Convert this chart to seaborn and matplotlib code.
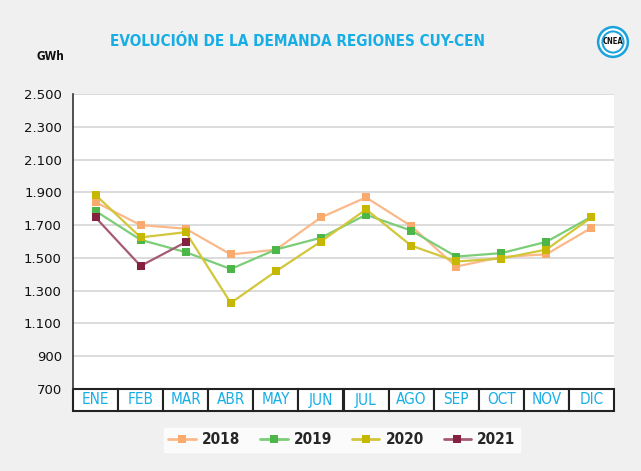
import matplotlib
matplotlib.use("Agg")
import matplotlib.pyplot as plt
import matplotlib.patches as mpatches
import matplotlib.transforms as mtransforms
import seaborn as sns
import pandas as pd
import numpy as np

months = ["ENE", "FEB", "MAR", "ABR", "MAY", "JUN", "JUL", "AGO", "SEP", "OCT", "NOV", "DIC"]
d2018 = [1840, 1700, 1678, 1521, 1550, 1747, 1869, 1694, 1447, 1505, 1522, 1684]
d2019 = [1786, 1610, 1535, 1432, 1551, 1623, 1763, 1667, 1508, 1529, 1598, 1751]
d2020 = [1884, 1625, 1657, 1225, 1418, 1600, 1796, 1575, 1478, 1496, 1551, 1747]
d2021 = [1747, 1451, 1596]
yticks = [700, 900, 1100, 1300, 1500, 1700, 1900, 2100, 2300, 2500]

series = {"2018": d2018, "2019": d2019, "2020": d2020, "2021": d2021}
line_cols = {"2018": "#fbb98a", "2019": "#7ccd77", "2020": "#d2c63a", "2021": "#a55a74"}
mark_cols = {"2018": "#fbaa6e", "2019": "#4cb748", "2020": "#c6b800", "2021": "#83213f"}

rows = []
for yr, vals in series.items():
    for i, v in enumerate(vals):
        rows.append({"pos": i, "GWh": v, "year": yr})
df = pd.DataFrame(rows)

sns.set_style("white")
plt.rcParams["font.family"] = ["DejaVu Sans"]
plt.rcParams["font.stretch"] = "condensed"

bg = "#f0f0f0"
blue = "#17aee6"
fig = plt.figure(figsize=(6.41, 4.71), dpi=100, facecolor=bg)
ax = fig.add_axes([73 / 641, 1 - 389 / 471, 541 / 641, 295 / 471])
ax.set_facecolor("white")

for yr in series:
    sub = df[df["year"] == yr]
    sns.lineplot(data=sub, x="pos", y="GWh", ax=ax, color=line_cols[yr], lw=1.6,
                 marker="s", markersize=5.2, markeredgewidth=0,
                 markerfacecolor=mark_cols[yr], label=yr, sort=False, legend=False)

ax.set_xlim(-0.5, len(months) - 0.5)
ax.set_ylim(700, 2500)
ax.set_yticks(yticks)
ax.set_yticklabels([f"{v:,}".replace(",", ".") for v in yticks], fontsize=9.5,
                   fontstretch="normal", color="#111111")
ax.tick_params(axis="y", length=0, pad=8)
ax.set_xticks([])
ax.set_xlabel("")
ax.set_ylabel("")
ax.grid(axis="y", color="#d9d9d9", lw=1.3)
ax.set_axisbelow(True)
for s in ["top", "right", "bottom"]:
    ax.spines[s].set_visible(False)
ax.spines["left"].set_color("#333333")
ax.spines["left"].set_linewidth(1.2)

# month boxes under the axis
trans = mtransforms.blended_transform_factory(ax.transData, ax.transAxes)
box_h = 22 / 295
for i, m in enumerate(months):
    r = mpatches.Rectangle((i - 0.5, -box_h), 1.0, box_h, transform=trans,
                           facecolor="white", edgecolor="#222222", lw=1.5, clip_on=False)
    ax.add_patch(r)
    ax.text(i, -box_h / 2, m, transform=trans, ha="center", va="center",
            color=blue, fontsize=11)

# title, unit and logo
fig.text(297 / 641, 1 - 41 / 471, "EVOLUCIÓN DE LA DEMANDA REGIONES CUY-CEN",
         ha="center", va="center", color=blue, fontsize=11, fontweight="bold")
fig.text(50 / 641, 1 - 57 / 471, "GWh", ha="center", va="center",
         fontsize=8.5, fontweight="bold", color="#111111")

lax = fig.add_axes([596 / 641, 1 - 59 / 471, 34 / 641, 34 / 471])
lax.set_aspect("equal")
lax.set_xlim(-1, 1)
lax.set_ylim(-1, 1)
lax.axis("off")
lax.add_patch(mpatches.Circle((0, 0), 0.95, facecolor="#1aa3dc", edgecolor="none"))
lax.add_patch(mpatches.Circle((0, 0), 0.8, facecolor="white", edgecolor="none"))
lax.add_patch(mpatches.Circle((0, 0), 0.68, facecolor="#1aa3dc", edgecolor="none"))
lax.add_patch(mpatches.Circle((0, 0), 0.56, facecolor="white", edgecolor="none"))
lax.text(0, 0, "CNEA", ha="center", va="center", fontsize=5.5, fontweight="bold",
         color="#111111")

# legend
handles = [plt.Line2D([], [], color=line_cols[yr], lw=2, marker="s", markersize=6,
                      markeredgewidth=0, markerfacecolor=mark_cols[yr])
           for yr in series]
leg = fig.legend(handles, list(series.keys()), ncol=4, loc="center",
                 bbox_to_anchor=(342 / 641, 1 - 440 / 471), frameon=True,
                 fancybox=False, handlelength=1.8, columnspacing=1.3, handletextpad=0.4,
                 prop={"weight": "bold", "size": 11}, borderpad=0.3, borderaxespad=0)
leg.get_frame().set_facecolor("white")
leg.get_frame().set_edgecolor("white")

fig.savefig("out.png", dpi=100, facecolor=bg)
